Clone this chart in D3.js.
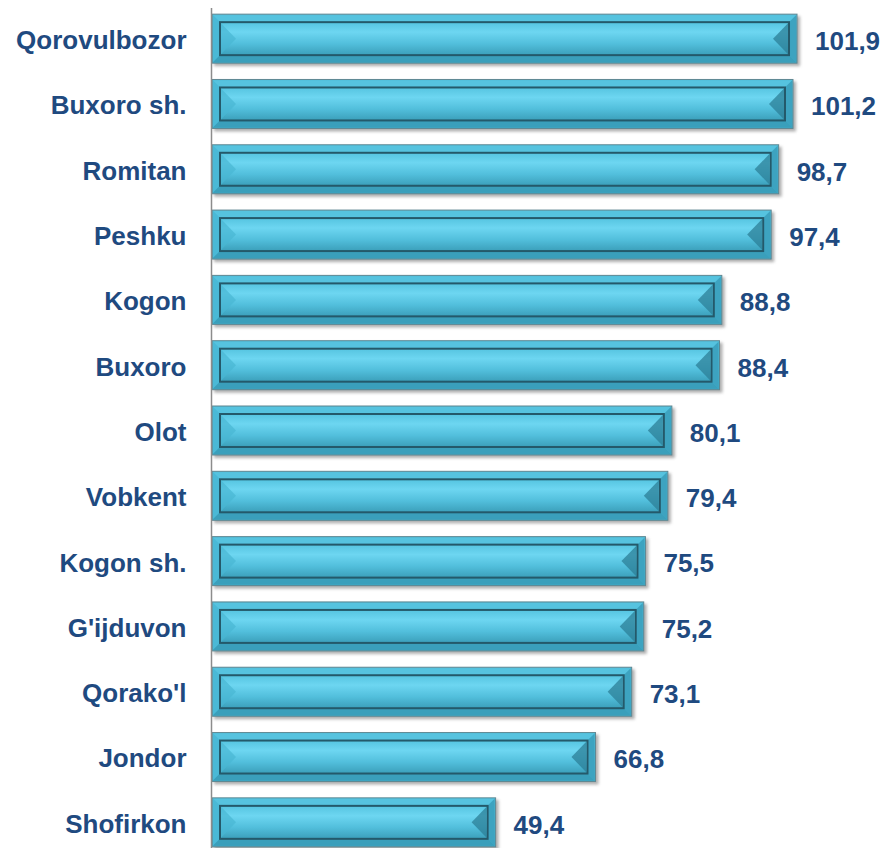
<!DOCTYPE html>
<html><head><meta charset="utf-8">
<script src="https://cdn.jsdelivr.net/npm/d3@7/dist/d3.min.js"></script>
<style>body{margin:0;background:#fff}svg{display:block}</style>
</head><body>
<script>
const categories = ["Qorovulbozor","Buxoro sh.","Romitan","Peshku","Kogon","Buxoro","Olot","Vobkent","Kogon sh.","G'ijduvon","Qorako'l","Jondor","Shofirkon"];
const values = [101.9,101.2,98.7,97.4,88.8,88.4,80.1,79.4,75.5,75.2,73.1,66.8,49.4];
const valueLabels = ["101,9","101,2","98,7","97,4","88,8","88,4","80,1","79,4","75,5","75,2","73,1","66,8","49,4"];

const W = 884, H = 848;
const svg = d3.select("body").append("svg").attr("width", W).attr("height", H);
const defs = svg.append("defs");
const g1 = defs.append("linearGradient").attr("id","face").attr("x1",0).attr("y1",0).attr("x2",0).attr("y2",1);
g1.append("stop").attr("offset","0%").attr("stop-color","#55c4e0");
g1.append("stop").attr("offset","30%").attr("stop-color","#6dd6f1");
g1.append("stop").attr("offset","65%").attr("stop-color","#52bfdc");
g1.append("stop").attr("offset","100%").attr("stop-color","#3b9fba");
const g2 = defs.append("linearGradient").attr("id","outer").attr("x1",0).attr("y1",0).attr("x2",0).attr("y2",1);
g2.append("stop").attr("offset","0%").attr("stop-color","#50bdd9");
g2.append("stop").attr("offset","100%").attr("stop-color","#3fa8c4");
const f = defs.append("filter").attr("id","sh").attr("x","-5%").attr("y","-20%").attr("width","115%").attr("height","150%");
f.append("feGaussianBlur").attr("stdDeviation",1.5);

const x = d3.scaleLinear().domain([0, 110]).range([212, 212 + 110 * 5.741]);
const y = d3.scaleBand().domain(categories).range([6, 855]).paddingInner(0.25).paddingOuter(0.125);

const txt = "#1f4a80";
const font = "Liberation Sans, Arial, sans-serif";
const bh = y.bandwidth();
const ins = 8;

const rows = svg.selectAll("g.row").data(categories).join("g").attr("class","row")
  .attr("transform", d => `translate(0,${y(d)})`);

rows.each(function(c, i) {
  const g = d3.select(this);
  const x0 = x(0), x1 = x(values[i]);
  const w = x1 - x0;
  g.append("rect").attr("x", x0 + 2).attr("y", 2).attr("width", w + 1).attr("height", bh + 1)
    .attr("fill", "#6d6d6d").attr("opacity", 0.55).attr("filter","url(#sh)");
  g.append("rect").attr("x", x0).attr("y", 0).attr("width", w).attr("height", bh)
    .attr("fill", "url(#outer)").attr("stroke", "#5f8893").attr("stroke-width", 1);
  const ix0 = x0 + ins, ix1 = x1 - ins, iy0 = ins, iy1 = bh - ins;
  const poly = (pts, col) => g.append("polygon").attr("points", pts.map(p => p.join(",")).join(" ")).attr("fill", col);
  poly([[x0+1,1],[x1-1,1],[ix1,iy0],[ix0,iy0]], "#56c3df");
  poly([[x0+1,1],[ix0,iy0],[ix0,iy1],[x0+1,bh-1]], "#4ab9d6");
  poly([[x0+1,bh-1],[ix0,iy1],[ix1,iy1],[x1-1,bh-1]], "#3a9fbb");
  poly([[x1-1,1],[x1-1,bh-1],[ix1,iy1],[ix1,iy0]], "#3d a3c0".replace(" ",""));
  g.append("rect").attr("x", ix0).attr("y", iy0).attr("width", ix1 - ix0).attr("height", iy1 - iy0)
    .attr("fill", "url(#face)").attr("stroke", "#24596a").attr("stroke-width", 2);
  const my = (iy0 + iy1) / 2;
  g.append("polygon").attr("points", `${ix0+1},${iy0+1} ${ix0+16},${my} ${ix0+1},${iy1-1}`).attr("fill","#49b6d3").attr("opacity",0.7);
  g.append("polygon").attr("points", `${ix1-1},${iy0+1} ${ix1-16},${my} ${ix1-1},${iy1-1}`).attr("fill","#2c7f97").attr("opacity",0.75);
  g.append("text").attr("x", x1 + 18).attr("y", bh/2 + 2).attr("dy","0.36em")
    .attr("font-family", font).attr("font-weight","bold")
    .attr("font-size", 26).attr("fill", txt).text(valueLabels[i]);
});

const yAxis = d3.axisLeft(y).tickSize(0).tickPadding(25);
const ax = svg.append("g").attr("transform", `translate(211.5,0)`).call(yAxis);
ax.select(".domain").attr("d", "M0,8V848").attr("stroke", "#8c8c8c").attr("stroke-width", 1.5);
ax.selectAll("text").attr("font-family", font).attr("font-weight","bold")
  .attr("font-size", 26).attr("fill", txt).attr("dy", "0.4em");
</script>
</body></html>
